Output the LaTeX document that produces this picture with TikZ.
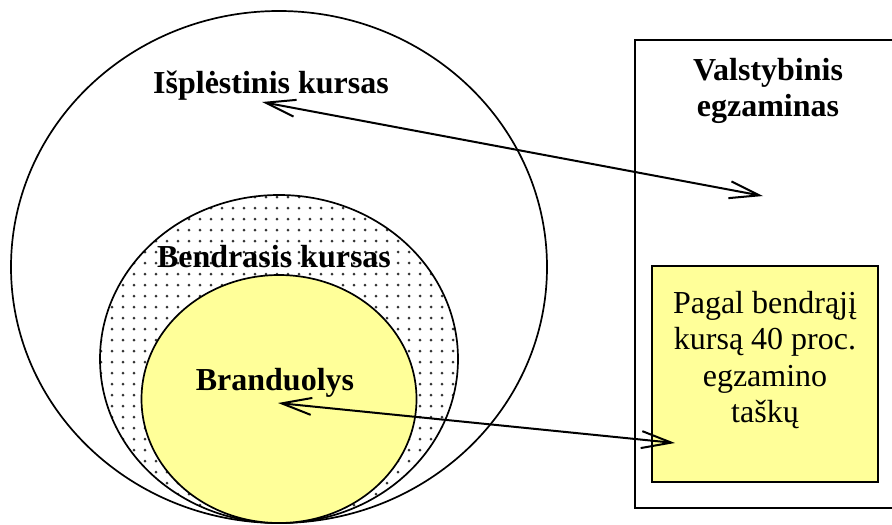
\documentclass[tikz,border=0pt]{standalone}
\usepackage{fontspec}
\setmainfont{Liberation Serif}
\usetikzlibrary{shapes.geometric,arrows.meta}
\definecolor{coreyellow}{HTML}{FFFF99}
\definecolor{dotgray}{gray}{0.2}
\begin{document}
\begin{tikzpicture}[x=1pt, y=-1pt,
  ring/.style={draw, ellipse, line width=1.7pt, inner sep=0pt},
  frame/.style={draw, line width=1.3pt, inner sep=0pt},
  >={Straight Barb[length=30pt,width=17pt]},
  link/.style={line width=2pt, <->},
  lbl/.style={font=\fontsize{32}{36}\selectfont\bfseries, inner sep=0pt}]
\useasboundingbox (0,0) rectangle (892,525);
% three nested rings
\node[ring, fill=white, minimum width=536pt, minimum height=512pt] (extended) at (279,267) {};
\fill[white] (279,359) ellipse [x radius=179, y radius=164];
\begin{scope}
\clip (279,359) ellipse [x radius=179, y radius=164];
\foreach \y in {197,208,...,522} \foreach \x in {101,112,...,458} \fill[dotgray] (\x,\y) circle[radius=1.5];
\end{scope}
\node[ring, minimum width=358pt, minimum height=328pt] (general) at (279,359) {};
\node[ring, fill=coreyellow, minimum width=275pt, minimum height=248pt] (core) at (279,399) {};
\node[lbl, anchor=base] (extLabel) at (271,93) {Išplėstinis kursas};
\node[lbl, anchor=base] (genLabel) at (274,267) {Bendrasis kursas};
\node[lbl, anchor=base] (coreLabel) at (275,390) {Branduolys};
% exam side
\node[frame, minimum width=270pt, minimum height=468pt] (exam) at (770,274) {};
\node[lbl, anchor=north, align=center] (examTitle) at (768,58) {Valstybinis\\egzaminas};
\node[frame, fill=coreyellow, minimum width=226pt, minimum height=216pt] (share) at (765,374) {};
\node[anchor=north, align=center, inner sep=0pt, font=\fontsize{32}{36.5}\selectfont] (shareText) at (765,291) {Pagal bendrąjį\\kursą 40 proc.\\egzamino\\taškų};
% links
\coordinate (extEnd) at (262,102);
\coordinate (examEnd) at (763,196);
\coordinate (coreEnd) at (278,403);
\coordinate (shareEnd) at (675,443);
\draw[link] (extEnd) -- (examEnd);
\draw[link] (coreEnd) -- (shareEnd);
\end{tikzpicture}
\end{document}
